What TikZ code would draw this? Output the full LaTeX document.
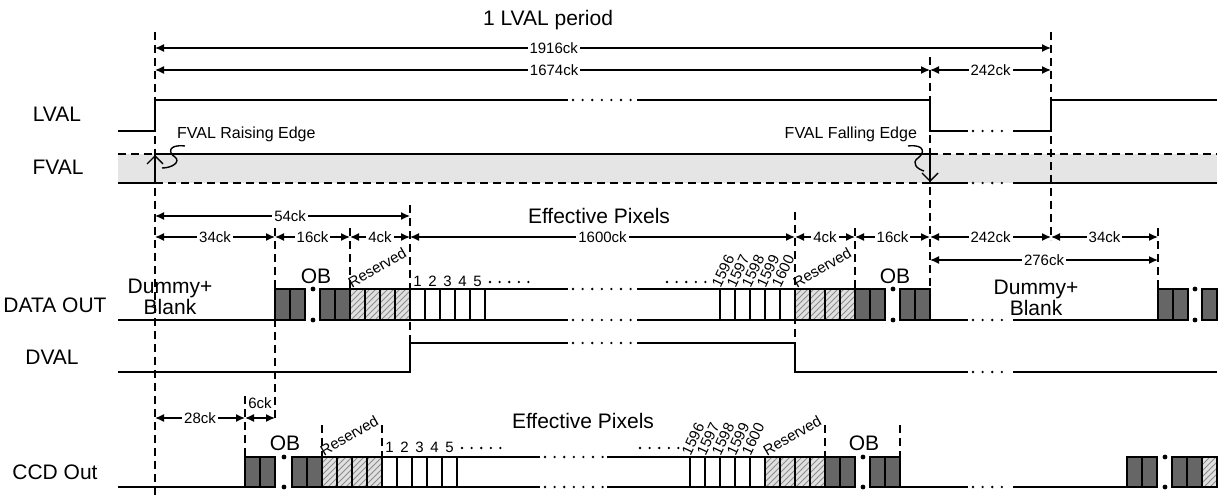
\documentclass[tikz,border=0pt]{standalone}
\usepackage{fontspec}
\setmainfont{Liberation Sans}
\usetikzlibrary{arrows.meta,patterns}

\begin{document}
\begin{tikzpicture}[x=0.5pt,y=-0.5pt,
  sig/.style={line width=1pt},
  sigdash/.style={line width=1pt, dash pattern=on 4pt off 2.5pt},
  vline/.style={line width=1.4pt, dash pattern=on 4pt off 2.5pt},
  dim/.style={{Latex[length=4.5pt,width=4pt]}-{Latex[length=4.5pt,width=4pt]}, line width=0.7pt},
  dimlbl/.style={fill=white, inner sep=1pt, font=\fontsize{7.5}{8}\selectfont},
  rowlbl/.style={font=\fontsize{10.5}{12}\selectfont},
  biglbl/.style={font=\fontsize{10.5}{10.5}\selectfont, align=center},
  numlbl/.style={font=\fontsize{7.5}{8}\selectfont, inner sep=0pt},
  obcell/.style={draw, line width=1pt, fill=black!60},
  rescell/.style={draw, line width=1pt, preaction={fill=black!12}, pattern=north east lines, pattern color=black!45},
  pixcell/.style={draw, line width=1pt, fill=white},
  dotrun/.style={line width=1.3pt, line cap=round, dash pattern=on 0pt off 4.8pt},
  curly/.style={line width=0.7pt}]
\useasboundingbox (0,0) rectangle (1224,497);

% FVAL band
\fill[black!10] (118,154) rectangle (1217,183);

% vertical guides
\draw[vline] (155,32) -- (155,497);
\draw[vline] (1051,32) -- (1051,240);
\draw[vline] (930,57) -- (930,289);
\draw[vline] (275,228) -- (275,422);
\draw[vline] (350,228) -- (350,289);
\draw[vline] (410,205) -- (410,343);
\draw[vline] (795,212) -- (795,343);
\draw[vline] (855,228) -- (855,289);
\draw[vline] (1158,228) -- (1158,289);
\draw[vline] (245,396) -- (245,457);
\foreach \x in {322,382,825,900} \draw[vline] (\x,425) -- (\x,457);

% row names
\node[rowlbl] (lval) at (57,114) {LVAL};
\node[rowlbl] (fval) at (58,167) {FVAL};
\node[rowlbl] (dout) at (55,305) {DATA OUT};
\node[rowlbl] (dval) at (52,357) {DVAL};
\node[rowlbl] (ccd) at (55,472) {CCD Out};

% timing
\node[biglbl] (period) at (548,20) {1 LVAL period};
\draw[dim] (155,48) -- node[dimlbl,pos=0.445] {1916ck} (1051,48);
\draw[dim] (155,70) -- node[dimlbl,pos=0.515] {1674ck} (930,70);
\draw[dim] (930,70) -- node[dimlbl] {242ck} (1051,70);
\draw[dim] (155,216) -- node[dimlbl,pos=0.53] {54ck} (410,216);
\node[biglbl] (effA) at (599,216) {Effective Pixels};
\foreach \a/\b/\t in {155/275/34ck, 275/350/16ck, 350/410/4ck, 410/795/1600ck,
  795/855/4ck, 855/930/16ck, 930/1051/242ck, 1051/1158/34ck}
  \draw[dim] (\a,237) -- node[dimlbl] {\t} (\b,237);
\draw[dim] (930,260) -- node[dimlbl] {276ck} (1158,260);
\draw[dim] (155,418) -- node[dimlbl] {28ck} (245,418);
\draw[dim] (245,418) -- (275,418);
\node[dimlbl, fill=none] (six) at (260,403) {6ck};
\node[biglbl] (effB) at (583,421) {Effective Pixels};

% LVAL
\draw[sig] (118,131) -- (155,131) -- (155,100) -- (568,100);
\draw[dotrun] (573,100) -- (633,100);
\draw[sig] (637,100) -- (930,100) -- (930,131) -- (968,131);
\draw[dotrun] (973,131) -- (1009,131);
\draw[sig] (1013,131) -- (1051,131) -- (1051,100) -- (1217,100);

% FVAL
\draw[sigdash] (118,154) -- (155,154);
\draw[sig] (155,154) -- (930,154);
\draw[sigdash] (930,154) -- (1217,154);
\draw[sig] (118,183) -- (155,183);
\draw[sigdash] (155,183) -- (930,183);
\draw[sig] (930,183) -- (968,183);
\draw[dotrun] (973,183) -- (1009,183);
\draw[sig] (1013,183) -- (1217,183);
\draw[curly, -{Straight Barb[length=4pt,width=8pt]}] (155,183) -- (155,155);
\draw[curly, -{Straight Barb[length=4pt,width=8pt]}] (930,154) -- (930,182);
\node[font=\fontsize{8}{9}\selectfont, anchor=west] (rise) at (170,134) {FVAL Raising Edge};
\node[font=\fontsize{8}{9}\selectfont, anchor=east] (fall) at (924,134) {FVAL Falling Edge};
\draw[curly] (185,146) .. controls (168,144) and (168,153) .. (175,157)
  .. controls (181,162) and (172,168) .. (162,168);
\draw[curly] (908,146) .. controls (925,144) and (925,153) .. (918,158)
  .. controls (911,163) and (917,169) .. (924,171);

% DATA OUT
\draw[sig] (118,320) -- (275,320);
\node[biglbl] (dumA) at (170,297) {Dummy+\\Blank};
\draw[sig] (485,289) -- (568,289) (637,289) -- (720,289);
\draw[sig] (485,320) -- (568,320) (637,320) -- (720,320);
\draw[dotrun] (573,289) -- (633,289) (573,320) -- (633,320);
\draw[sig] (930,320) -- (968,320) (1013,320) -- (1158,320);
\draw[dotrun] (973,320) -- (1009,320);
\foreach \x in {313,893,1195} \fill (\x,289) circle (1.2pt) (\x,320) circle (1.2pt);
\foreach \x in {275,290,320,335,855,870,900,915,1158,1173,1202}
  \draw[obcell] (\x,289) rectangle ++(15,31);
\foreach \x in {350,365,380,395,795,810,825,840}
  \draw[rescell] (\x,289) rectangle ++(15,31);
\foreach \x in {410,425,440,455,470,720,735,750,765,780}
  \draw[pixcell] (\x,289) rectangle ++(15,31);
\node[biglbl] (obA) at (316,276) {OB};
\node[biglbl] (obB) at (895,276) {OB};
\node[biglbl] (dumB) at (1036,298) {Dummy+\\Blank};
\foreach \n in {1,...,5} \node[numlbl] at (402.5+15*\n,281) {\n};
\draw[dotrun] (490,282) -- (530,282) (667,282) -- (707,282);
\foreach \n [count=\i from 0] in {1596,...,1600}
  \node[numlbl, rotate=65, anchor=south west] at (721+15*\i,289) {\n};
\node[numlbl, rotate=30, anchor=south west] (resA) at (352,289) {Reserved};
\node[numlbl, rotate=30, anchor=south west] (resB) at (797,289) {Reserved};

% DVAL
\draw[sig] (118,372) -- (410,372) -- (410,343) -- (568,343);
\draw[dotrun] (573,343) -- (633,343);
\draw[sig] (637,343) -- (795,343) -- (795,372) -- (968,372);
\draw[dotrun] (973,372) -- (1009,372);
\draw[sig] (1013,372) -- (1217,372);

% CCD Out
\draw[sig] (118,487) -- (245,487);
\draw[sig] (457,457) -- (540,457) (607,457) -- (690,457);
\draw[sig] (457,487) -- (540,487) (607,487) -- (690,487);
\draw[dotrun] (545,457) -- (603,457) (545,487) -- (603,487);
\draw[sig] (900,487) -- (968,487) (1013,487) -- (1127,487);
\draw[dotrun] (973,487) -- (1009,487);
\foreach \x in {284,863,1165} \fill (\x,457) circle (1.2pt) (\x,487) circle (1.2pt);
\foreach \x in {245,260,292,307,825,840,870,885,1127,1142,1172,1187}
  \draw[obcell] (\x,457) rectangle ++(15,30);
\foreach \x in {322,337,352,367,765,780,795,810,1202}
  \draw[rescell] (\x,457) rectangle ++(15,30);
\foreach \x in {382,397,412,427,442,690,705,720,735,750}
  \draw[pixcell] (\x,457) rectangle ++(15,30);
\node[biglbl] (obC) at (285,443) {OB};
\node[biglbl] (obD) at (864,443) {OB};
\foreach \n in {1,...,5} \node[numlbl] at (374.5+15*\n,447) {\n};
\draw[dotrun] (462,448) -- (502,448) (640,448) -- (680,448);
\foreach \n [count=\i from 0] in {1596,...,1600}
  \node[numlbl, rotate=65, anchor=south west] at (691+15*\i,457) {\n};
\node[numlbl, rotate=30, anchor=south west] (resC) at (324,457) {Reserved};
\node[numlbl, rotate=30, anchor=south west] (resD) at (767,457) {Reserved};
\end{tikzpicture}
\end{document}
